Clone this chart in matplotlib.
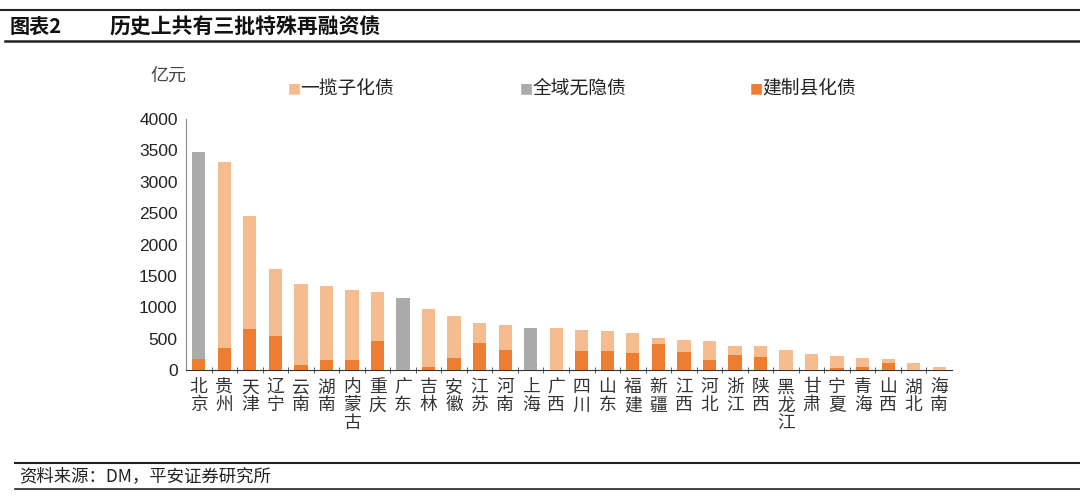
import numpy as np
import matplotlib.pyplot as plt
from matplotlib.lines import Line2D

plt.rcParams['font.family'] = ['Noto Sans CJK SC', 'DejaVu Sans']

regions = ['北京', '贵州', '天津', '辽宁', '云南', '湖南', '内蒙古', '重庆', '广东', '吉林',
           '安徽', '江苏', '河南', '上海', '广西', '四川', '山东', '福建', '新疆', '江西',
           '河北', '浙江', '陕西', '黑龙江', '甘肃', '宁夏', '青海', '山西', '湖北', '海南']
# 亿元
jianzhi = [180, 356, 654, 548, 74, 160, 160, 468, 0, 48,
           186, 437, 325, 0, 0, 309, 298, 272, 410, 288,
           160, 240, 213, 0, 0, 27, 43, 106, 0, 0]
quanyu = [3290, 0, 0, 0, 0, 0, 0, 0, 1144, 0,
          0, 0, 0, 666, 0, 0, 0, 0, 0, 0,
          0, 0, 0, 0, 0, 0, 0, 0, 0, 0]
yilanzi = [0, 2953, 1793, 1058, 1298, 1186, 1111, 777, 0, 925,
           682, 319, 399, 0, 666, 330, 325, 324, 106, 197,
           309, 138, 165, 314, 261, 191, 149, 70, 112, 43]

c_yilanzi = '#F5BC8F'
c_quanyu = '#ABABAB'
c_jianzhi = '#ED7D31'

fig = plt.figure(figsize=(10.8, 4.95), dpi=100)
ax = fig.add_axes([0.1722, 0.2525, 0.7093, 0.5071])

x = np.arange(len(regions))
w = 0.52
ax.bar(x, jianzhi, w, color=c_jianzhi, label='建制县化债', zorder=3)
base = np.array(jianzhi)
ax.bar(x, quanyu, w, bottom=base, color=c_quanyu, label='全域无隐债', zorder=3)
base = base + np.array(quanyu)
ax.bar(x, yilanzi, w, bottom=base, color=c_yilanzi, label='一揽子化债', zorder=3)

ax.set_xlim(-0.5, len(regions) - 0.5)
ax.set_ylim(0, 4000)
ax.set_yticks(np.arange(0, 4001, 500))
ax.tick_params(axis='y', length=0, pad=6, labelsize=12.5, labelcolor='#222222')
for lab in ax.get_yticklabels():
    lab.set_family(['Liberation Sans', 'DejaVu Sans'])

ax.set_xticks(x)
ax.set_xticklabels(['\n'.join(r) for r in regions], fontsize=12.8,
                   linespacing=1.0, va='top', color='#333333')
ax.tick_params(axis='x', which='major', length=0, pad=6)
ax.set_xticks(np.arange(0.5, len(regions) - 0.5, 1), minor=True)
ax.tick_params(axis='x', which='minor', length=5, direction='inout', color='#444444')

for s in ['top', 'right']:
    ax.spines[s].set_visible(False)
ax.spines['bottom'].set_color('#333333')
ax.spines['left'].set_color('#888888')

# legend, order as in reference
fig.text(0.139, 0.848, '亿元', fontsize=13, color='#444444', va='center')
items = [('一揽子化债', c_yilanzi, 0.2665), ('全域无隐债', c_quanyu, 0.4815), ('建制县化债', c_jianzhi, 0.6945)]
for name, col, xp in items:
    fig.text(xp, 0.822, '■', fontsize=10, color=col, va='center',
             family=['DejaVu Sans'])
    fig.text(xp + 0.0115, 0.822, name, fontsize=13.5, color='#222222', va='center')

# header
fig.add_artist(Line2D([0, 1], [0.98, 0.98], color='#222222', lw=1.5))
fig.add_artist(Line2D([0.005, 1], [0.917, 0.917], color='#222222', lw=1.8))
fig.text(0.009, 0.946, '图表2', fontsize=14.5, weight='bold', va='center', color='#111111')
fig.text(0.101, 0.946, '历史上共有三批特殊再融资债', fontsize=15, weight='bold',
         va='center', color='#111111')

# footer
fig.add_artist(Line2D([0.014, 1], [0.065, 0.065], color='#222222', lw=1.5))
fig.add_artist(Line2D([0.014, 1], [0.013, 0.013], color='#222222', lw=1.2))
fig.text(0.018, 0.038, '资料来源：DM，平安证券研究所', fontsize=12.5, va='center',
         color='#222222', style='italic')

fig.savefig('out.png', dpi=100)
